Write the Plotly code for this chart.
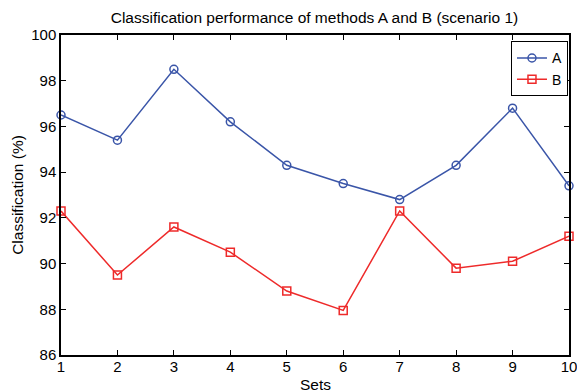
import plotly.graph_objects as go

sets = [1, 2, 3, 4, 5, 6, 7, 8, 9, 10]
method_a = [96.5, 95.4, 98.5, 96.2, 94.3, 93.5, 92.8, 94.3, 96.8, 93.4]
method_b = [92.3, 89.5, 91.6, 90.5, 88.8, 87.95, 92.3, 89.8, 90.1, 91.2]
y_ticks = [86, 88, 90, 92, 94, 96, 98, 100]

blue = "#3A55A8"
red = "#EE2A2A"
font = "Liberation Sans, Arial, Helvetica, sans-serif"

fig = go.Figure()
fig.add_trace(go.Scatter(
    x=sets, y=method_a, name="A", mode="lines+markers",
    line=dict(color=blue, width=1.5),
    marker=dict(symbol="circle-open", size=8, color=blue, line=dict(width=1.5)),
    cliponaxis=False,
))
fig.add_trace(go.Scatter(
    x=sets, y=method_b, name="B", mode="lines+markers",
    line=dict(color=red, width=1.5),
    marker=dict(symbol="square-open", size=8, color=red, line=dict(width=1.5)),
    cliponaxis=False,
))

axis_common = dict(
    showgrid=False, zeroline=False, showline=True, linecolor="black", linewidth=1.5,
    mirror="allticks", ticks="inside", ticklen=5, tickcolor="black", tickwidth=1,
    tickfont=dict(family=font, size=15, color="black"), automargin=False,
    ticklabeloverflow="allow",
)

fig.update_layout(
    width=577, height=390,
    margin=dict(l=61, r=8, t=35, b=35),
    paper_bgcolor="white", plot_bgcolor="white",
    font=dict(family=font, color="black"),
    title=dict(text="Classification performance of methods A and B (scenario 1)",
               x=0.545, xanchor="center", y=0.955, yanchor="middle",
               font=dict(family=font, size=15.5, color="black")),
    xaxis=dict(range=[1, 10], tickvals=sets, ticktext=[str(s) for s in sets],
               ticklabelstandoff=-3,
               **axis_common),
    yaxis=dict(range=[86, 100], tickvals=y_ticks,
               title=dict(text="Classification (%)", font=dict(family=font, size=15.5), standoff=4),
               **axis_common),
    legend=dict(x=0.998, y=0.98, xanchor="right", yanchor="top",
                bgcolor="white", bordercolor="black", borderwidth=1,
                font=dict(family=font, size=14, color="black"),
                itemwidth=30, tracegroupgap=0),
    showlegend=True,
    annotations=[dict(text="Sets", xref="paper", yref="paper", x=0.5, y=0,
                      xanchor="center", yanchor="middle", yshift=-29, showarrow=False,
                      font=dict(family=font, size=15.5, color="black"))],
)

fig.write_html("out.html", config={"displayModeBar": False},
               post_script="document.body.style.margin='0';document.body.style.overflow='hidden';")
